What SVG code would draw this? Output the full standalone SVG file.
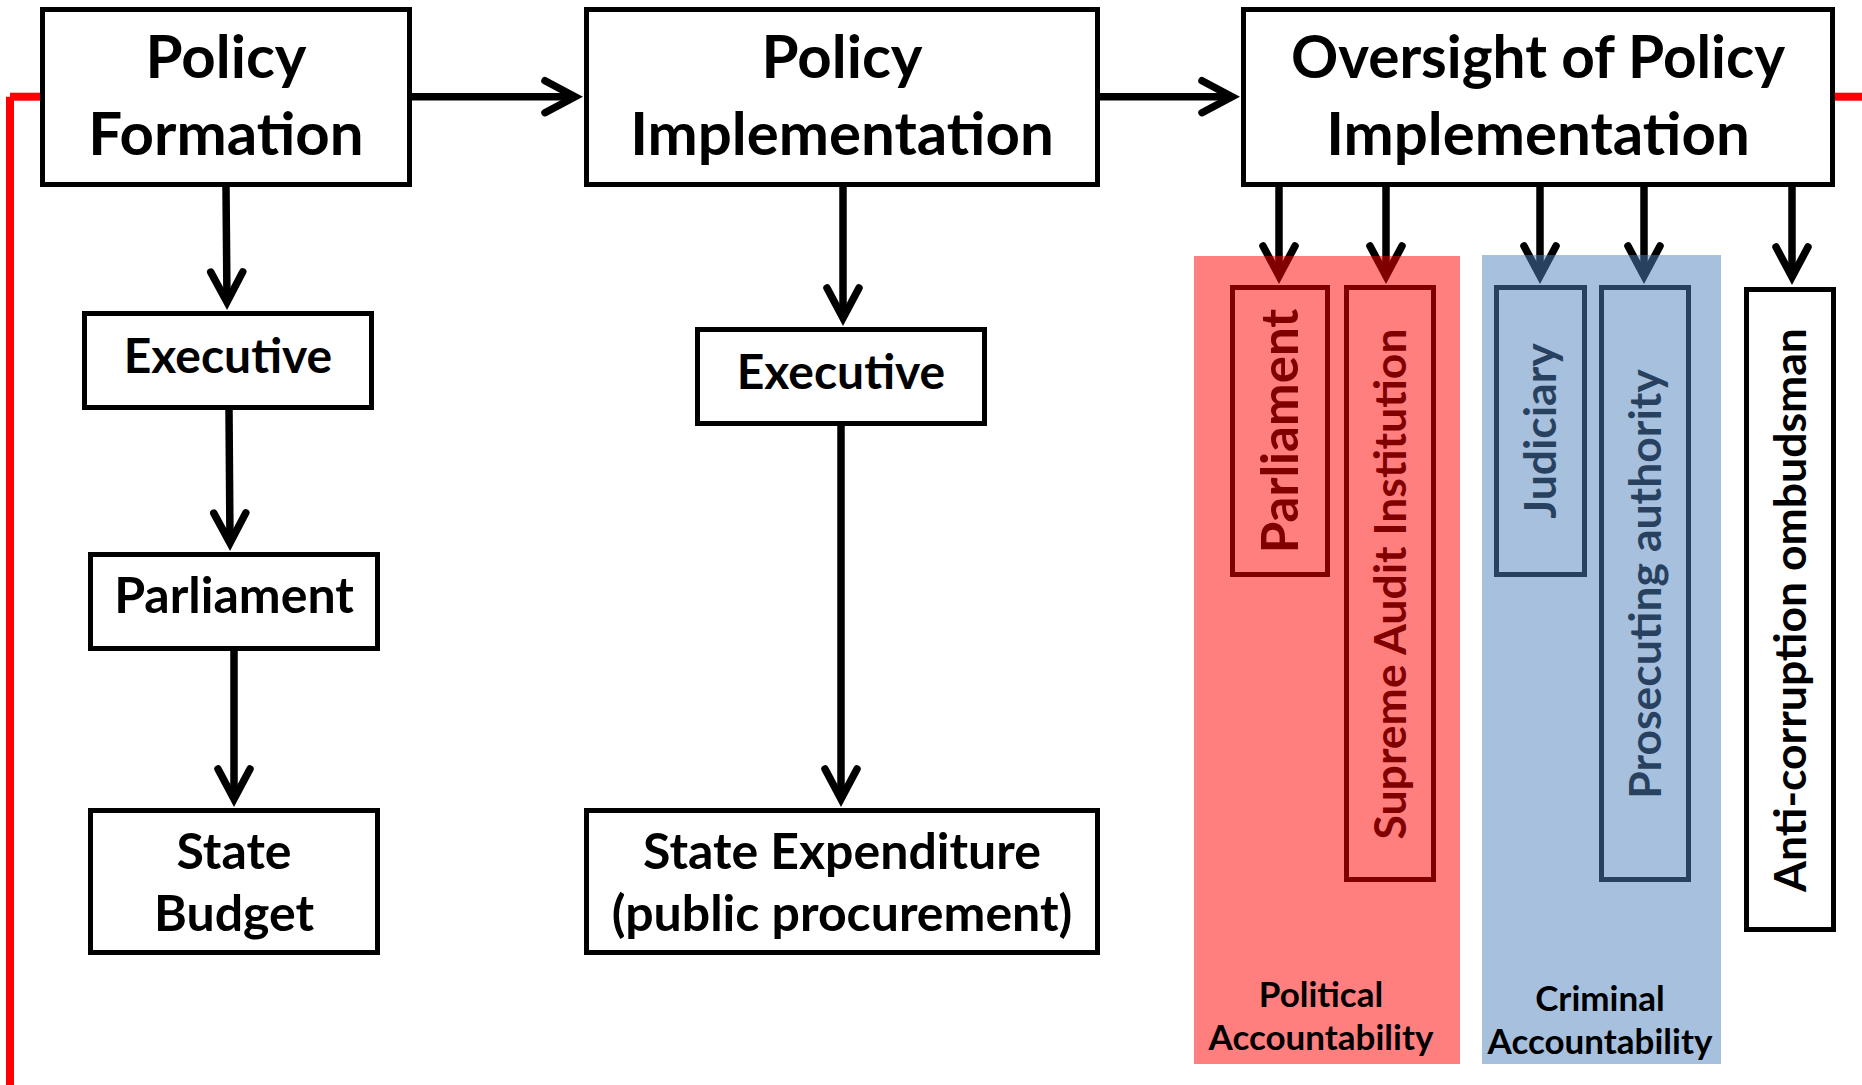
<svg xmlns="http://www.w3.org/2000/svg" width="1862" height="1085" viewBox="0 0 1862 1085">
<style>
.box{fill:#fff;stroke:#000;stroke-width:5}
.sub{fill:none;stroke:#000;stroke-width:5}
.t{font-family:Lato,"Carlito","Liberation Sans",sans-serif;font-weight:700;fill:#000;text-anchor:middle}
.big{font-size:60px}
.mid{font-size:50px}
.exe{font-size:48px}
.rot{font-size:44.5px}
.rotl{font-size:51px}
.acc{font-size:35px}
.con{fill:none;stroke:#000;stroke-width:7.5;marker-end:url(#arrow)}
.fb{fill:none;stroke:#ff0000;stroke-width:8}
</style>
<defs>
<marker id="arrow" markerUnits="userSpaceOnUse" markerWidth="50" markerHeight="50" viewBox="-40 -25 50 50" refX="0" refY="0" orient="auto" overflow="visible">
<path d="M-30,-16 L0,0 L-30,16" fill="none" stroke="#000" stroke-width="7.5" stroke-linecap="round" stroke-linejoin="miter"/>
</marker>
</defs>
<rect width="1862" height="1085" fill="#fff"/>
<g id="connectors">
<line class="fb" x1="42" y1="96.7" x2="10" y2="96.7"/>
<line class="fb" x1="10" y1="96.7" x2="10" y2="1085"/>
<line class="fb" x1="1834" y1="96.7" x2="1862" y2="96.7"/>
<line class="con" x1="412" y1="96.7" x2="575" y2="96.7"/>
<line class="con" x1="1100" y1="96.7" x2="1232" y2="96.7"/>
<line class="con" x1="226" y1="187" x2="227" y2="302"/>
<line class="con" x1="229" y1="410" x2="230" y2="543"/>
<line class="con" x1="234" y1="651" x2="234" y2="799"/>
<line class="con" x1="843" y1="187" x2="843" y2="318"/>
<line class="con" x1="841" y1="426" x2="841" y2="799"/>
<line class="con" x1="1279" y1="187" x2="1279" y2="276"/>
<line class="con" x1="1386" y1="187" x2="1386" y2="276"/>
<line class="con" x1="1540" y1="187" x2="1540" y2="276"/>
<line class="con" x1="1644" y1="187" x2="1644" y2="276"/>
<line class="con" x1="1792" y1="187" x2="1792" y2="277"/>
</g>
<g id="policy-formation">
<rect class="box" x="42.5" y="9.5" width="367" height="175"/>
<text class="t big" x="226" y="78">Policy</text>
<text class="t big" x="226" y="155">Formation</text>
</g>
<g id="policy-implementation">
<rect class="box" x="586.5" y="9.5" width="511" height="175"/>
<text class="t big" x="842" y="78">Policy</text>
<text class="t big" x="842" y="155">Implementation</text>
</g>
<g id="oversight">
<rect class="box" x="1243.5" y="9.5" width="589" height="175"/>
<text class="t big" x="1538" y="78" style="font-size:58.5px">Oversight of Policy</text>
<text class="t big" x="1538" y="155">Implementation</text>
</g>
<g id="executive-formation">
<rect class="box" x="84.5" y="313.5" width="287" height="94"/>
<text class="t exe" x="228" y="373">Executive</text>
</g>
<g id="parliament-formation">
<rect class="box" x="90.5" y="554.5" width="287" height="94"/>
<text class="t mid" x="234" y="613">Parliament</text>
</g>
<g id="state-budget">
<rect class="box" x="90.5" y="810.5" width="287" height="142"/>
<text class="t mid" x="234" y="869">State</text>
<text class="t mid" x="234" y="931">Budget</text>
</g>
<g id="executive-implementation">
<rect class="box" x="697.5" y="329.5" width="287" height="94"/>
<text class="t exe" x="841" y="389">Executive</text>
</g>
<g id="state-expenditure">
<rect class="box" x="586.5" y="810.5" width="511" height="142"/>
<text class="t mid" x="842" y="869">State Expenditure</text>
<text class="t mid" x="842" y="931">(public procurement)</text>
</g>
<g id="parliament-oversight">
<rect class="sub" x="1232.5" y="287.5" width="95" height="287"/>
<text class="t rotl" transform="translate(1298,431) rotate(-90)">Parliament</text>
</g>
<g id="supreme-audit">
<rect class="sub" x="1346.5" y="287.5" width="87" height="592"/>
<text class="t rot" transform="translate(1406,584) rotate(-90)">Supreme Audit Institution</text>
</g>
<g id="judiciary">
<rect class="sub" x="1496.5" y="287.5" width="88" height="287"/>
<text class="t rot" transform="translate(1556,431) rotate(-90)">Judiciary</text>
</g>
<g id="prosecuting-authority">
<rect class="sub" x="1601.5" y="287.5" width="87" height="592"/>
<text class="t rot" transform="translate(1661,584) rotate(-90)">Prosecuting authority</text>
</g>
<g id="anti-corruption">
<rect class="sub" x="1746.5" y="289.5" width="87" height="640"/>
<text class="t rot" transform="translate(1806,610) rotate(-90)">Anti-corruption ombudsman</text>
</g>
<g id="political-accountability">
<rect x="1194" y="256" width="266" height="808" fill="#ff0000" fill-opacity="0.5"/>
<text class="t acc" x="1321" y="1007">Political</text>
<text class="t acc" x="1321" y="1050">Accountability</text>
</g>
<g id="criminal-accountability">
<rect x="1482" y="255" width="239" height="809" fill="#4f81bd" fill-opacity="0.5"/>
<text class="t acc" x="1600" y="1011">Criminal</text>
<text class="t acc" x="1600" y="1054">Accountability</text>
</g>
</svg>
